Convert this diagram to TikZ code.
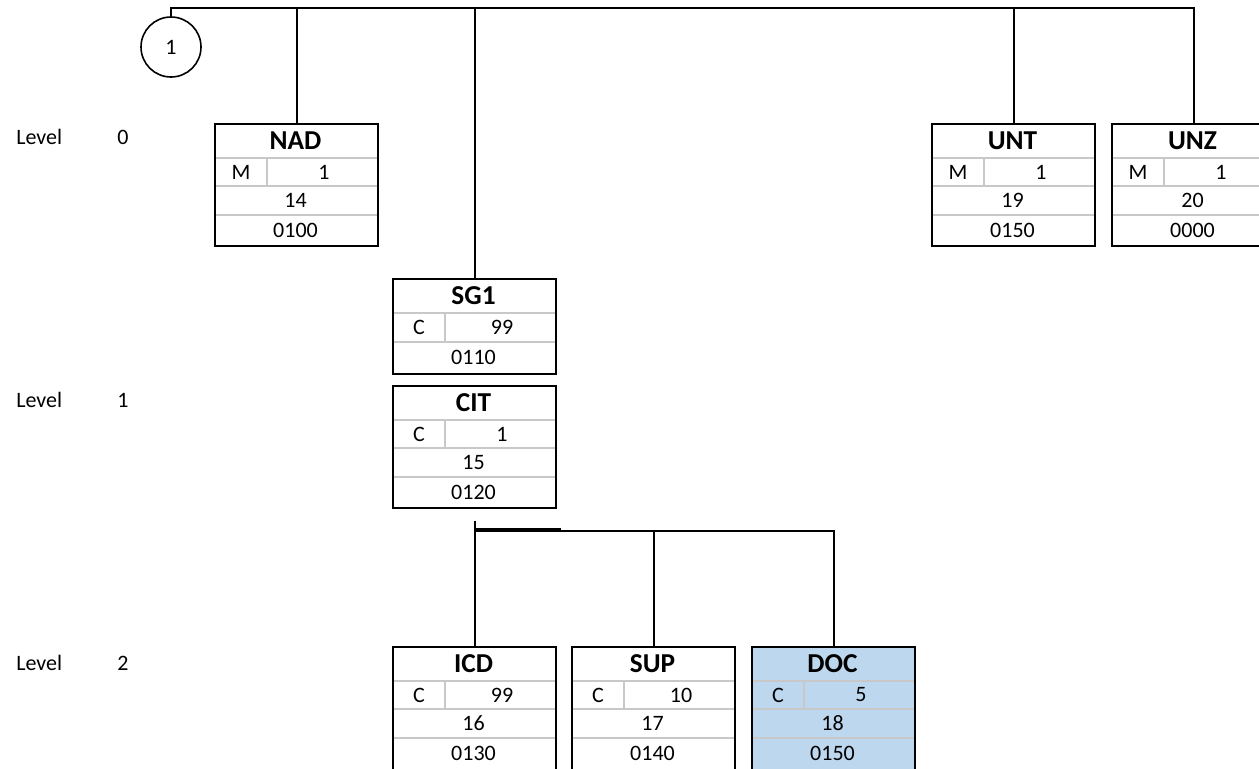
\documentclass[tikz,border=0pt]{standalone}
\usepackage{fontspec}
\setmainfont{Carlito}
\definecolor{gridgray}{HTML}{C8C8C8}
\definecolor{docblue}{HTML}{BDD7EE}
\tikzset{
  frame/.style={draw=black, line width=1.5pt, rectangle, inner sep=0pt, anchor=north west},
  divider/.style={draw=gridgray, line width=1.2pt},
  conn/.style={draw=black, line width=1.5pt},
  title/.style={font=\fontsize{20.5}{23}\selectfont\bfseries},
  cell/.style={font=\fontsize{16.5}{19}\selectfont},
  lvl/.style={font=\fontsize{16.5}{19}\selectfont},
  ring/.style={draw=black, line width=1.2pt, circle, minimum size=45pt, inner sep=0pt, font=\fontsize{16.5}{19}\selectfont},
}
\def\boxh{122}
% name, x, y, title, status, rep, pos, tag, fill
\newcommand\segbox[9]{%
  \fill[#9] (#2,#3) rectangle ({#2+163},{#3+\boxh});
  \draw[divider] (#2,{#3+35}) -- ({#2+163},{#3+35});
  \draw[divider] (#2,{#3+63}) -- ({#2+163},{#3+63});
  \draw[divider] (#2,{#3+92}) -- ({#2+163},{#3+92});
  \draw[divider] ({#2+53},{#3+35}) -- ({#2+53},{#3+63});
  \node[title] at ({#2+81.5},{#3+17.5}) {#4};
  \node[cell] at ({#2+27},{#3+49}) {#5};
  \node[cell] at ({#2+110},{#3+49}) {#6};
  \node[cell] at ({#2+81.5},{#3+77.5}) {#7};
  \node[cell] at ({#2+81.5},{#3+107}) {#8};
  \node[frame, minimum width=122.25pt, minimum height={\boxh*0.75pt}] (#1) at (#2,#3) {};
}
% name, x, y, title, status, rep, tag
\newcommand\grpbox[7]{%
  \fill[white] (#2,#3) rectangle ({#2+163},{#3+95});
  \draw[divider] (#2,{#3+35}) -- ({#2+163},{#3+35});
  \draw[divider] (#2,{#3+64}) -- ({#2+163},{#3+64});
  \draw[divider] ({#2+53},{#3+35}) -- ({#2+53},{#3+64});
  \node[title] at ({#2+81.5},{#3+17.5}) {#4};
  \node[cell] at ({#2+27},{#3+49.5}) {#5};
  \node[cell] at ({#2+110},{#3+49.5}) {#6};
  \node[cell] at ({#2+81.5},{#3+79.5}) {#7};
  \node[frame, minimum width=122.25pt, minimum height=71.25pt] (#1) at (#2,#3) {};
}
\begin{document}
\begin{tikzpicture}[x=0.75pt, y=-0.75pt]
\useasboundingbox (0,0) rectangle (1259,768);
\clip (0,0) rectangle (1259,768);
\fill[white] (0,0) rectangle (1259,768);

% level labels
\node[lvl, anchor=west, inner sep=0pt] (l0) at (16,137) {Level};
\node[lvl] (n0) at (123,137) {0};
\node[lvl, anchor=west, inner sep=0pt] (l1) at (16,400) {Level};
\node[lvl] (n1) at (123,400) {1};
\node[lvl, anchor=west, inner sep=0pt] (l2) at (16,663) {Level};
\node[lvl] (n2) at (123,663) {2};

% boxes
\segbox{NAD}{214}{123}{NAD}{M}{1}{14}{0100}{white}
\segbox{UNT}{931}{123}{UNT}{M}{1}{19}{0150}{white}
\segbox{UNZ}{1111}{123}{UNZ}{M}{1}{20}{0000}{white}
\grpbox{SG1}{392}{278}{SG1}{C}{99}{0110}
\segbox{CIT}{392}{385}{CIT}{C}{1}{15}{0120}{white}
\def\boxh{126}
\segbox{ICD}{392}{646}{ICD}{C}{99}{16}{0130}{white}
\segbox{SUP}{571}{646}{SUP}{C}{10}{17}{0140}{white}
\segbox{DOC}{751}{646}{DOC}{C}{5}{18}{0150}{docblue}

% circle
\node[ring] (circ) at (171,47) {1};

% connectors
\coordinate (top) at (0,7.5);
\coordinate (bus) at (0,531);
\draw[conn] (circ.north) -- (circ.north |- top) -- (UNZ.north |- top) -- (UNZ.north);
\draw[conn] (NAD.north) -- (NAD.north |- top);
\draw[conn] (SG1.north) -- (SG1.north |- top);
\draw[conn] (UNT.north) -- (UNT.north |- top);
\draw[conn] (ICD.north) -- ++(0,-125);
\draw[conn] (ICD.north |- bus) -- (DOC.north |- bus) -- (DOC.north);
\draw[conn] (SUP.north |- bus) -- (SUP.north);
\draw[conn] ([yshift=1.5pt]ICD.north |- bus) -- ++(86,0);
\end{tikzpicture}
\end{document}
